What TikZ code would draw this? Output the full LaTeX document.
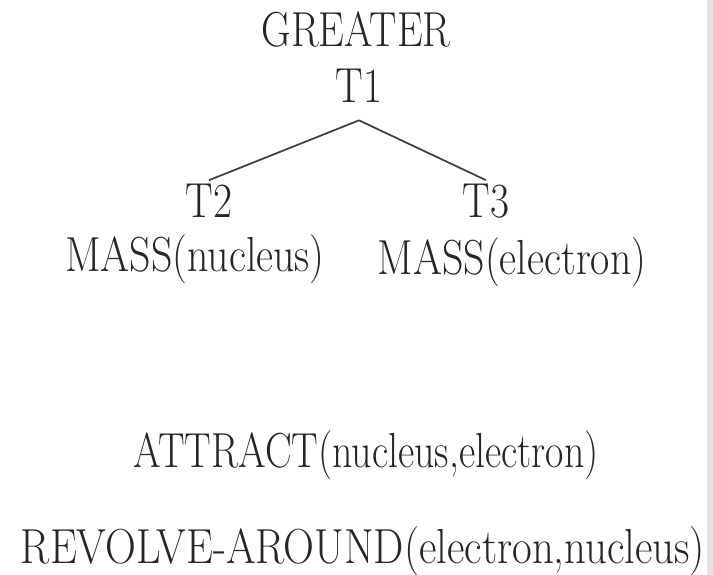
\documentclass[tikz,border=0pt]{standalone}
\usetikzlibrary{positioning}

% squeezed letters, as in the scanned figure
\newcommand{\narrow}[2][0.84]{\scalebox{#1}[1]{#2}}

\begin{document}
\begin{tikzpicture}[
  term/.style = {font=\fontsize{28}{30}\selectfont, text=black!85,
                 inner xsep=0pt, inner ysep=0pt, anchor=base},
  tag/.style  = {term, inner ysep=0.08cm},
  link/.style = {draw=black!75, line width=1pt},
]
\useasboundingbox (0,0) rectangle (14.26,-11.5);
\fill[gray!22] (14.14,0) rectangle (14.26,-11.5);

% ===== top relation =====
\node[term] (greater) at (7.12,-0.94) {\narrow[0.83]{GREATER}};
\node[tag, inner ysep=0.34cm] (t1) at (7.18,-2.06) {\narrow{T1}};

% ===== the two terms =====
\node[tag] (t2) at (4.18,-4.36) {\narrow{T2}};
\node[term] (massN) at (3.90,-5.44) {\narrow[0.85]{MASS(nucleus)}};
\node[tag] (t3) at (9.72,-4.36) {\narrow{T3}};
\node[term] (massE) at (10.24,-5.50) {\narrow[0.85]{MASS(electron)}};

\draw[link] (t1.south) -- (t2.north);
\draw[link] (t1.south) -- (t3.north);

% ===== remaining facts =====
\node[term] (attract) at (7.32,-9.36) {\narrow[0.81]{ATTRACT(nucleus,electron)}};
\node[term] (revolve) at (7.26,-11.26) {\narrow[0.87]{REVOLVE-AROUND(electron,nucleus)}};

\end{tikzpicture}
\end{document}
